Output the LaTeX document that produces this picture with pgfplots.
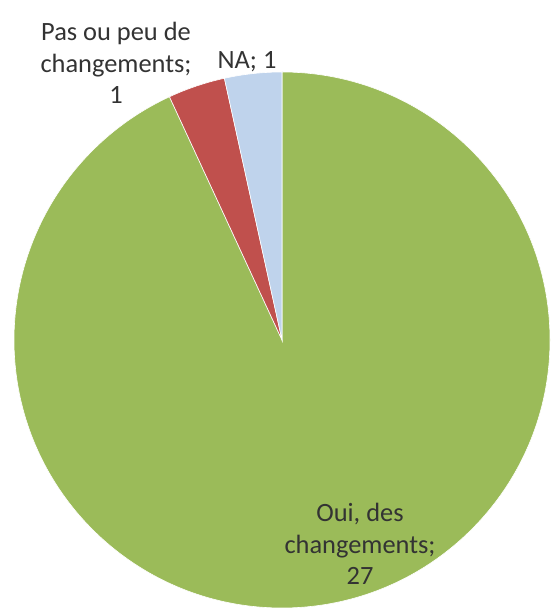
\documentclass[border=0pt]{standalone}
\usepackage{pgfplots}
\pgfplotsset{compat=1.18}
\usepackage{pgfplotstable}
\usepackage{fontspec}
\setmainfont{Carlito}
\definecolor{cOui}{HTML}{9BBB59}
\definecolor{cPas}{HTML}{C0504D}
\definecolor{cNA}{HTML}{BFD3EC}
\definecolor{txt}{HTML}{333333}
\pgfplotstableread{
label value
Oui 27
Pas 1
NA 1
}\piedata
\begin{document}
\begin{tikzpicture}
\pgfplotstablegetelem{0}{value}\of\piedata \let\vA\pgfplotsretval
\pgfplotstablegetelem{1}{value}\of\piedata \let\vB\pgfplotsretval
\pgfplotstablegetelem{2}{value}\of\piedata \let\vC\pgfplotsretval
\pgfmathsetmacro{\tot}{\vA+\vB+\vC}
\pgfmathsetmacro{\aA}{90}
\pgfmathsetmacro{\aB}{90-360*\vA/\tot}
\pgfmathsetmacro{\aC}{\aB-360*\vB/\tot}
\pgfmathsetmacro{\aD}{\aC-360*\vC/\tot}
\def\cx{282}\def\cy{272}\def\rr{268}
\begin{axis}[scale only axis, width=549bp, height=612bp,
  xmin=0, xmax=549, ymin=0, ymax=612, hide axis, clip=false]
\path (axis cs:0,0) rectangle (axis cs:549,612);
\fill[cOui, draw=white, line width=0.6pt] (axis cs:\cx,\cy) -- (axis cs:{\cx+\rr*cos(\aA)},{\cy+\rr*sin(\aA)}) arc[start angle=\aA, end angle=\aB, radius=\rr bp] -- cycle;
\fill[cPas, draw=white, line width=0.6pt] (axis cs:\cx,\cy) -- (axis cs:{\cx+\rr*cos(\aB)},{\cy+\rr*sin(\aB)}) arc[start angle=\aB, end angle=\aC, radius=\rr bp] -- cycle;
\fill[cNA, draw=white, line width=0.6pt] (axis cs:\cx,\cy) -- (axis cs:{\cx+\rr*cos(\aC)},{\cy+\rr*sin(\aC)}) arc[start angle=\aC, end angle=\aD, radius=\rr bp] -- cycle;
\node[align=center, text=txt, font=\fontsize{26.5}{31.5}\selectfont] at (axis cs:116,549) {Pas ou peu de\\changements;\\1};
\node[align=center, text=txt, font=\fontsize{26.5}{31.5}\selectfont] at (axis cs:247,550) {NA; 1};
\node[align=center, text=txt, font=\fontsize{26.5}{31.5}\selectfont] at (axis cs:360,68) {Oui, des\\changements;\\27};
\end{axis}
\end{tikzpicture}
\end{document}
